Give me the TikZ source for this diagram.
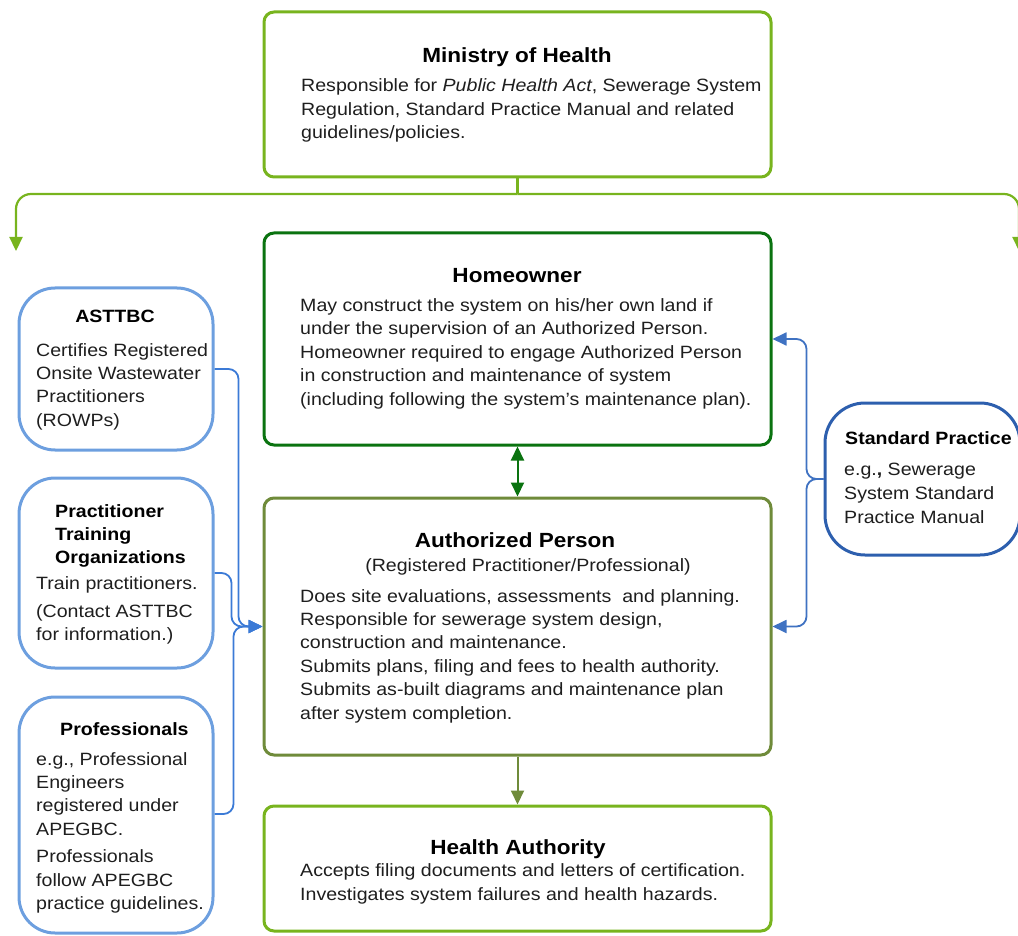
\documentclass[tikz,border=0pt]{standalone}
\usepackage{fontspec}
\setmainfont{Liberation Sans}[FakeStretch=1.1]
\usetikzlibrary{arrows.meta,calc}
\definecolor{lgreen}{HTML}{78B41E}
\definecolor{dgreen}{HTML}{0A7310}
\definecolor{ogreen}{HTML}{6F8B3A}
\definecolor{lblue}{HTML}{6D9FDF}
\definecolor{cblue}{HTML}{3B7AD6}
\definecolor{dblue}{HTML}{2D5FAE}
\definecolor{sblue}{HTML}{3F72C2}
\definecolor{txt}{HTML}{1E1E1E}
\newcommand\bodyf{\fontsize{17.8}{23.4}\selectfont}
\newcommand\titlef{\fontsize{20.5}{24}\selectfont\bfseries}
\newcommand\sidetf{\fontsize{17.8}{23.4}\selectfont\bfseries}
\begin{document}
\begin{tikzpicture}[x=1pt,y=-1pt,
  mainbox/.style={draw, line width=3pt, rounded corners=10pt, minimum width=507pt, inner sep=0pt},
  sidebox/.style={draw=lblue, line width=3pt, rounded corners=36pt, minimum width=194pt, inner sep=0pt},
  ttl/.style={anchor=base, inner sep=0pt, font=\titlef, text=black},
  sidettl/.style={anchor=base west, inner sep=0pt, font=\sidetf, text=black, align=left},
  body/.style={anchor=base west, inner sep=0pt, font=\bodyf, text=txt, align=left},
  tip/.style={-{Triangle[length=14pt,width=13pt]}},
  bconn/.style={draw=cblue, line width=1.8pt, rounded corners=10pt, tip},
  sconn/.style={draw=sblue, line width=1.8pt, rounded corners=10pt, tip},
  gconn/.style={draw=lgreen, line width=2.2pt, rounded corners=15pt, tip}]
\useasboundingbox (0,0) rectangle (1018,936);

% main boxes
\node[mainbox, draw=lgreen, minimum height=165pt] (mini) at (517.5,94.5) {};
\node[mainbox, draw=dgreen, minimum height=212pt] (home) at (517.5,339) {};
\node[mainbox, draw=ogreen, minimum height=257pt] (auth) at (517.5,626.5) {};
\node[mainbox, draw=lgreen, minimum height=125pt] (hlth) at (517.5,868.5) {};

% side boxes
\node[sidebox, minimum height=162pt] (asttbc) at (116,369) {};
\node[sidebox, minimum height=190pt] (ptrain) at (116,573) {};
\node[sidebox, minimum height=236pt] (prof) at (116,815) {};
\node[draw=dblue, line width=3pt, rounded corners=40pt, minimum width=195pt, minimum height=152pt, inner sep=0pt] (stdp) at (922.5,479) {};

% (multi-line nodes: base anchor = baseline of last line)
% Ministry
\node[ttl] (minit) at (517,63) {Ministry of Health};
\node[body] (minib) at (301,138.8) {Responsible for \textit{Public Health Act}, Sewerage System\\Regulation, Standard Practice Manual and related\\guidelines/policies.};

% Homeowner
\node[ttl] (homet) at (517,283) {Homeowner};
\node[body, font=\fontsize{17.8}{23.5}\selectfont] (homeb) at (300,405) {May construct the system on his/her own land if\\under the supervision of an Authorized Person.\\Homeowner required to engage Authorized Person\\in construction and maintenance of system\\(including following the system's maintenance plan).};

% Authorized Person
\node[ttl] (autht) at (515,547) {Authorized Person};
\node[anchor=base, inner sep=0pt, font=\bodyf, text=txt] (auths) at (528,571) {(Registered Practitioner/Professional)};
\node[body] (authb) at (300,719) {Does site evaluations, assessments\ \ and planning.\\Responsible for sewerage system design,\\construction and maintenance.\\Submits plans, filing and fees to health authority.\\Submits as-built diagrams and maintenance plan\\after system completion.};

% Health Authority
\node[ttl] (hlthtt) at (518,854) {Health Authority};
\node[body] (hlthb) at (300,900) {Accepts filing documents and letters of certification.\\Investigates system failures and health hazards.};

% ASTTBC
\node[anchor=base, inner sep=0pt, font=\sidetf, text=black] (astt) at (115,323) {ASTTBC};
\node[body] (astb) at (36,426.2) {Certifies Registered\\Onsite Wastewater\\Practitioners\\(ROWPs)};

% Practitioner Training Organizations
\node[sidettl] (ptrt) at (55,563.8) {Practitioner\\Training\\Organizations};
\node[body] (ptrb) at (36,640.8) {Train practitioners.\\[5pt](Contact ASTTBC\\for information.)};

% Professionals
\node[sidettl] (proft) at (60,735) {Professionals};
\node[body] (profb) at (36,909.4) {e.g., Professional\\Engineers\\registered under\\APEGBC.\\[4pt]Professionals\\follow APEGBC\\practice guidelines.};

% Standard Practice
\node[sidettl] (stdpt) at (845,444) {Standard Practice};
\node[body, font=\fontsize{17.8}{24}\selectfont] (stdpb) at (844,523) {e.g.\textbf{,} Sewerage\\System Standard\\Practice Manual};

% top connector
\coordinate (j) at (517.5,194);
\coordinate (lt) at (16,251);
\coordinate (rt) at (1019,251);
\draw[draw=lgreen, line width=2.2pt] (mini.south) -- (j);
\draw[gconn] (j) -| (lt);
\draw[gconn] (j) -| (rt);

% vertical arrows
\draw[draw=dgreen, line width=2pt, {Triangle[length=14pt,width=13pt]}-{Triangle[length=14pt,width=13pt]}] (home.south) -- (auth.north);
\draw[draw=ogreen, line width=2pt, tip] (auth.south) -- (hlth.north);

% blue connectors from left boxes
\draw[bconn] (asttbc.east) -| ($(auth.west)+(-24,0)$) -- (auth.west);
\draw[bconn] (ptrain.east) -| ($(auth.west)+(-31,0)$) -- (auth.west);
\draw[bconn] ([yshift=1pt]prof.east) -| ($(auth.west)+(-29,0)$) -- (auth.west);

% standard practice connectors
\draw[sconn] (stdp.west) -| ($(home.east)+(34,0)$) -- (home.east);
\draw[sconn] (stdp.west) -| ($(auth.east)+(34,0)$) -- (auth.east);
\end{tikzpicture}
\end{document}
